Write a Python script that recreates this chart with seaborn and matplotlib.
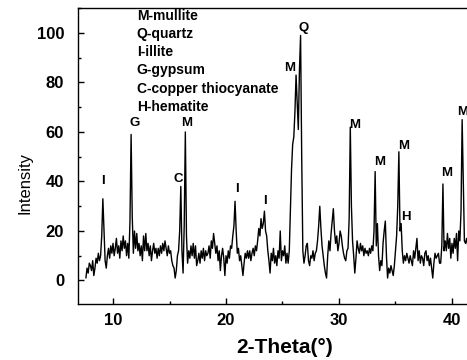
"""
XRD pattern of the sample with phase assignments (mullite, quartz, illite, ...).
"""

import numpy as np
import matplotlib
matplotlib.use("Agg")
import matplotlib.pyplot as plt
from matplotlib.ticker import MultipleLocator
import seaborn as sns

# ==========================================
# DATA
# ==========================================
START_2THETA = 7.6   # first scan point (deg)
STEP_2THETA = 0.1    # scan step (deg)

# intensity, one row per degree of 2-theta
INTENSITY = [
    1, 5, 3, 7,                                   # 7.6 - 7.9
    6, 4, 8, 2, 5, 9, 7, 11, 8, 10,               # 8
    18, 33, 20, 8, 5, 10, 13, 9, 14, 11,          # 9
    15, 10, 13, 17, 11, 14, 9, 16, 12, 18,        # 10
    13, 16, 10, 15, 9, 24, 59, 26, 11, 20,        # 11
    13, 19, 12, 15, 10, 14, 8, 18, 12, 19,        # 12
    12, 15, 10, 14, 8, 12, 15, 11, 13, 9,         # 13
    13, 10, 14, 11, 15, 12, 16, 13, 10, 14,       # 14
    11, 12, 8, 6, 5, 1, 4, 10, 12, 20,            # 15
    38, 12, 3, 22, 60, 18, 7, 12, 9, 14,          # 16
    10, 15, 9, 14, 6, 8, 11, 7, 12, 9,            # 17
    13, 8, 12, 10, 11, 14, 9, 16, 13, 19,         # 18
    15, 11, 14, 8, 12, 4, 10, 13, 9, 2,           # 19
    10, 7, 12, 9, 14, 13, 18, 22, 32, 20,         # 20
    11, 13, 8, 10, 6, 2, 7, 11, 9, 12,            # 21
    9, 12, 8, 11, 13, 10, 14, 12, 16, 21,         # 22
    18, 25, 21, 23, 28, 20, 18, 12, 8, 3,         # 23
    11, 8, 13, 7, 10, 6, 12, 9, 20, 8,            # 24
    12, 10, 14, 7, 11, 7, 12, 28, 45, 55,         # 25
    58, 68, 83, 72, 61, 85, 99, 50, 12, 7,        # 26
    10, 14, 15, 8, 6, 10, 9, 12, 8, 11,           # 27
    12, 16, 22, 30, 21, 14, 10, 6, 3, 1,          # 28
    10, 16, 12, 19, 24, 29, 20, 15, 18, 12,       # 29
    15, 20, 18, 14, 11, 9, 8, 12, 13, 25,         # 30
    62, 30, 16, 10, 3, 9, 16, 13, 11, 15,         # 31
    12, 14, 10, 13, 11, 12, 10, 13, 11, 14,       # 32
    12, 20, 44, 14, 23, 10, 4, 8, 6, 15,          # 33
    20, 24, 10, 1, 5, 3, 6, 4, 2, 6,              # 34
    12, 18, 30, 52, 20, 23, 12, 7, 10, 8,         # 35
    11, 9, 7, 10, 8, 6, 12, 9, 13, 17,            # 36
    8, 12, 7, 10, 9, 6, 11, 12, 8, 10,            # 37
    6, 9, 5, 1, 7, 11, 9, 10, 11, 7,              # 38
    7, 14, 39, 12, 16, 12, 19, 13, 17, 9,         # 39
    15, 11, 17, 13, 19, 8, 20, 16, 28, 65,        # 40
    40, 16, 15, 17, 14,                           # 41.0 - 41.4
]

# peak assignments: letter, label position (2-theta, intensity)
PEAK_LETTERS = ['I', 'G', 'C', 'M', 'I', 'I', 'M', 'Q', 'M', 'M', 'M', 'H', 'M', 'M']
PEAK_X = [9.1, 11.95, 15.8, 16.5, 20.95, 23.45, 25.6, 26.9, 31.4, 33.6, 35.7, 35.9, 39.5, 40.9]
PEAK_Y = [40.4, 63.5, 41.0, 63.5, 37.0, 32.0, 86.0, 102.0, 62.7, 47.7, 54.3, 25.8, 43.5, 68.0]

PHASE_KEY = ['M-mullite', 'Q-quartz', 'I-illite', 'G-gypsum',
             'C-copper thiocyanate', 'H-hematite']

X_TICKS = [10, 20, 30, 40]
Y_TICKS = [0, 20, 40, 60, 80, 100]


def main():
    two_theta = START_2THETA + STEP_2THETA * np.arange(len(INTENSITY))

    sns.set_style("ticks")
    plt.rcParams['font.family'] = ['Liberation Sans', 'DejaVu Sans']
    plt.rcParams.update({'text.color': 'black', 'axes.labelcolor': 'black',
                         'xtick.color': 'black', 'ytick.color': 'black'})

    fig = plt.figure(figsize=(4.67, 3.6), dpi=100)
    ax = fig.add_axes([78 / 467, 56 / 360, 389 / 467, 296 / 360])

    sns.lineplot(x=two_theta, y=INTENSITY, ax=ax, color='black',
                 linewidth=1.0, estimator=None)

    ax.set_xlim(6.9, 41.33)
    ax.set_ylim(-9.5, 110.1)

    # peak letters
    for letter, px, py in zip(PEAK_LETTERS, PEAK_X, PEAK_Y):
        ax.text(px, py, letter, ha='center', va='center', color='black',
                fontsize=9.5, fontweight='bold', clip_on=False)

    # phase key
    for i, name in enumerate(PHASE_KEY):
        ax.text(12.1, 106.9 - i * 7.35, name, ha='left', va='center',
                color='black', fontsize=10, fontweight='bold')

    # axes styling
    ax.spines['right'].set_visible(False)
    for side in ['left', 'bottom', 'top']:
        ax.spines[side].set_linewidth(1.0)
        ax.spines[side].set_color('black')

    ax.set_xticks(X_TICKS)
    ax.set_yticks(Y_TICKS)
    ax.xaxis.set_minor_locator(MultipleLocator(5))
    ax.yaxis.set_minor_locator(MultipleLocator(10))
    ax.tick_params(which='both', direction='in', width=1.0, top=False, right=False,
                   labelsize=12, colors='black')
    ax.tick_params(which='major', length=4)
    ax.tick_params(which='minor', length=2.5)
    ax.tick_params(axis='y', pad=10)
    ax.tick_params(axis='x', pad=6.5)
    for lbl in ax.get_xticklabels() + ax.get_yticklabels():
        lbl.set_fontweight('bold')

    ax.set_xlabel('2-Theta(°)', fontsize=15, fontweight='bold')
    ax.set_ylabel('Intensity', fontsize=12)
    ax.xaxis.set_label_coords(0.53, -0.115)
    ax.yaxis.set_label_coords(-0.116, 0.41)

    fig.savefig('out.png', dpi=100)


if __name__ == "__main__":
    main()
